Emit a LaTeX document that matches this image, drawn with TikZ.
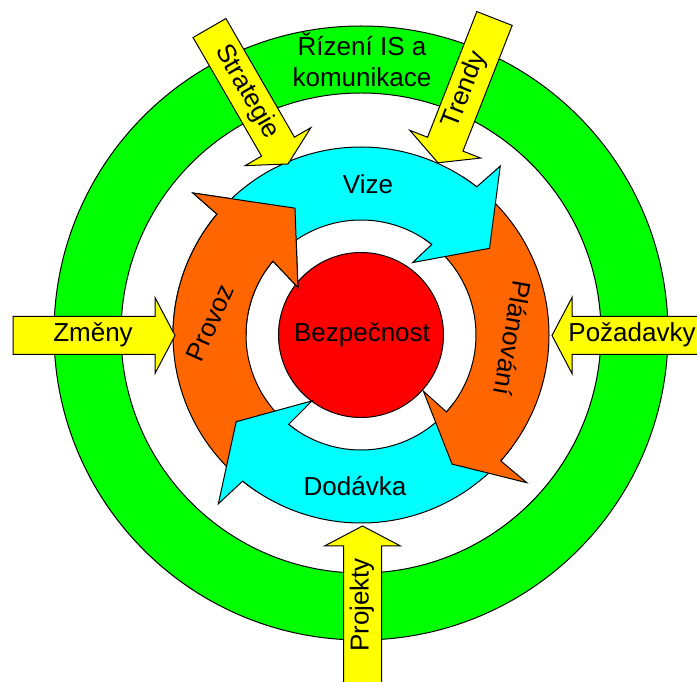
\documentclass[tikz,border=0pt]{standalone}
\usepackage{fontspec}
\setmainfont{Liberation Sans}
\definecolor{cgreen}{HTML}{00FF00}
\definecolor{ccyan}{HTML}{00FFFF}
\definecolor{corange}{HTML}{FF6600}
\definecolor{cred}{HTML}{FF0000}
\definecolor{cyellow}{HTML}{FFFF00}
\def\Rin{115}
\def\Rout{188}
% #1 colour, #2 tail angle, #3 base angle, #4/#5 outer barb, #6/#7 tip, #8/#9 inner barb
\newcommand\circarrow[9]{%
  \filldraw[outl, fill=#1] (#2:\Rout) arc[start angle=#2, end angle=#3, radius=\Rout]
    -- (#4:#5) -- (#6:#7) -- (#8:#9) -- (#3:\Rin)
    arc[start angle=#3, end angle=#2, radius=\Rin] -- cycle;}
% #1 x, #2 y of tail middle, #3 direction, #4 length
\newcommand\yarrow[4]{%
  \filldraw[outl, fill=cyellow, shift={(#1,#2)}, rotate=#3]
    (0,-19) -- (#4-20,-19) -- (#4-20,-38) -- (#4,0) -- (#4-20,38) -- (#4-20,19) -- (0,19) -- cycle;}
\tikzset{
  outl/.style={draw=black, line width=1pt, line join=miter},
  lbl/.style={inner sep=0pt, font=\fontsize{26}{31}\selectfont, text=black, align=center},
}
\begin{document}
\begin{tikzpicture}[x=1pt,y=1pt]
\useasboundingbox (0,0) rectangle (697,681);
% green ring
\filldraw[outl, fill=cgreen, even odd rule] (361,348) circle[radius=307] (361,348) circle[radius=240];
% centre
\filldraw[outl, fill=cred] (361,346) circle[radius=82.5];
\begin{scope}[shift={(361,346)}]
  \circarrow{corange}{236}{140}{139.8}{220}{117.5}{143}{143}{79}
  \circarrow{ccyan}{323}{231}{229.8}{221}{214.8}{152}{233.4}{82}
  \circarrow{corange}{57}{-42}{-41.7}{222}{-54.8}{158}{-42}{84}
  \circarrow{ccyan}{145}{52}{50.5}{219}{34}{155}{54.5}{89}
  \begin{scope}
    \clip (-361,0) rectangle (0,335);
    \circarrow{corange}{236}{140}{139.8}{220}{117.5}{143}{143}{79}
  \end{scope}
\end{scope}
% yellow arrows
\yarrow{209.5}{653}{-60}{157}
\yarrow{494.5}{662.5}{-111.4}{155}
\yarrow{13}{345.5}{0}{162}
\yarrow{712}{345.5}{180}{160}
\yarrow{362.5}{-9}{90}{164}
% texts
\node[lbl] (rizeni) at (362,621) {Řízení IS a\\komunikace};
\node[lbl] (vize) at (368,497) {Vize};
\node[lbl] (bezp) at (362,346) {Bezpečnost};
\node[lbl] (dodavka) at (355,195) {Dodávka};
\node[lbl] (provoz) at (210,358) [rotate=66] {Provoz};
\node[lbl] (planovani) at (513,343) [rotate=-100] {Plánování};
\node[lbl] (strategie) at (247,589) [rotate=-60] {Strategie};
\node[lbl] (trendy) at (465,591) [rotate=68.6] {Trendy};
\node[lbl] (zmeny) at (93,346) {Změny};
\node[lbl] (pozadavky) at (632,346) {Požadavky};
\node[lbl] (projekty) at (362,76) [rotate=90] {Projekty};
\end{tikzpicture}
\end{document}
